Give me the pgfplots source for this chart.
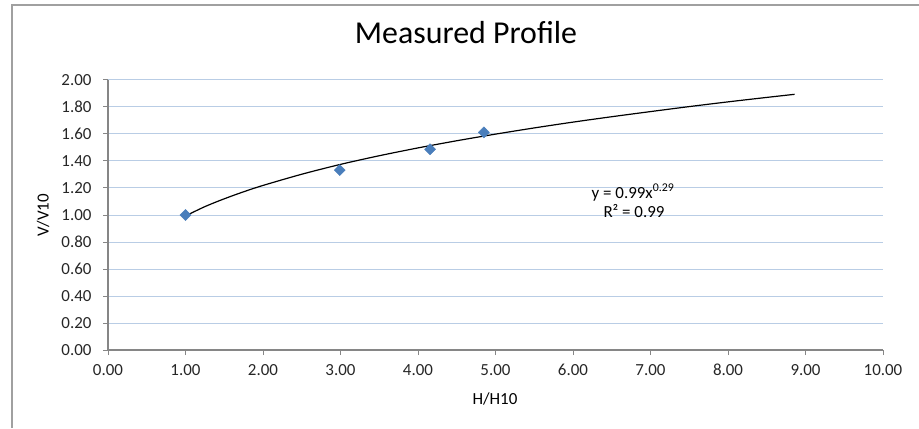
\documentclass[border=0pt]{standalone}
\usepackage{fontspec}
\setmainfont{Carlito}
\usepackage{pgfplots}
\pgfplotsset{compat=1.18}
\definecolor{gridblue}{RGB}{185,205,229}
\definecolor{axgray}{RGB}{134,134,134}
\definecolor{markblue}{RGB}{74,126,187}
\definecolor{framegray}{RGB}{160,160,160}
\begin{document}
\begin{tikzpicture}[x=1bp,y=1bp]
\useasboundingbox (0,0) rectangle (919,428);
\draw[framegray, line width=1.2bp] (12,0) -- (12,423) -- (919,423);
\begin{axis}[
  at={(108bp,78bp)}, anchor=south west,
  scale only axis, width=775bp, height=270bp,
  xmin=0, xmax=10, ymin=0, ymax=2,
  xtick={0,1,...,10}, ytick={0,0.2,...,2.01},
  axis x line=bottom, axis y line=left,
  axis line style={axgray, line width=1.3bp, -},
  tick style={axgray, line width=1bp},
  tick align=outside, major tick length=5bp,
  ymajorgrids, grid style={gridblue, line width=1bp},
  /pgf/number format/assume math mode=true,
  /pgf/number format/fixed, /pgf/number format/fixed zerofill, /pgf/number format/precision=2,
  ticklabel style={font=\fontsize{17}{17}\selectfont, text=black!85},
  xticklabel style={text height=11bp, text depth=0bp, yshift=-6bp},
  yticklabel style={xshift=-8bp},
  clip=false,
]
\addplot[black, line width=1.2bp, smooth] coordinates {
(1,0.993) (1.25,1.062) (1.5,1.120) (1.75,1.172) (2,1.219) (2.5,1.302) (3,1.375) (3.5,1.439)
(4,1.497) (4.5,1.550) (5,1.599) (5.5,1.645) (6,1.688) (6.5,1.728)
(7,1.766) (7.5,1.803) (8,1.838) (8.5,1.871) (8.86,1.894)
};
\addplot[only marks, mark=diamond*, mark size=5.5bp, mark options={xscale=1.33, fill=markblue, draw=markblue}] coordinates {
(1.00,1.00) (2.99,1.333) (4.155,1.487) (4.85,1.612)
};
\end{axis}
\node[font=\fontsize{32}{32}\selectfont, anchor=base] at (466,385) {Measured Profile};
\node[font=\fontsize{17}{17}\selectfont, rotate=90] at (43,213) {V/V10};
\node[font=\fontsize{17}{17}\selectfont] at (495,29) {H/H10};
\node[font=\fontsize{17}{17}\selectfont, anchor=base] at (633,230) {y = 0.99x\textsuperscript{0.29}};
\node[font=\fontsize{17}{17}\selectfont, anchor=base] at (634,211) {R² = 0.99};
\end{tikzpicture}
\end{document}
